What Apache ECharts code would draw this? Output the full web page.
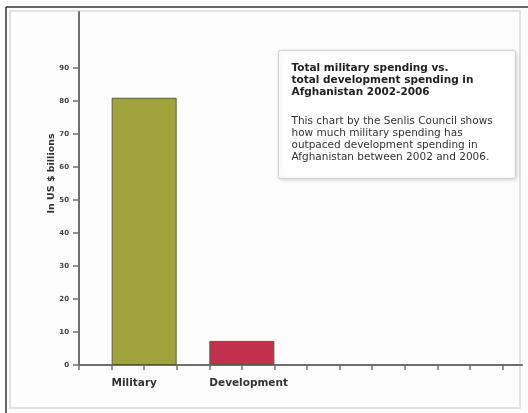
<!DOCTYPE html>
<html>
<head>
<meta charset="utf-8">
<script src="https://cdn.jsdelivr.net/npm/echarts@6/dist/echarts.min.js"></script>
<style>
  html, body { margin: 0; padding: 0; background: #fff; }
  #chart { width: 528px; height: 413px; }
</style>
</head>
<body>
<div id="chart"></div>
<script>
// chart data
const categories = ['Military', 'Development'];
const spending = [81, 7.3]; // US $ billions, 2002-2006
const yTicks = [0, 10, 20, 30, 40, 50, 60, 70, 80, 90];
const xTicks = [0, 1, 2, 3, 4, 5, 6, 7, 8, 9, 10, 11, 12, 13];
const barColors = ['#a0a33b', '#c2304e'];

const boxTitle = 'Total military spending vs.\ntotal development spending in\nAfghanistan 2002-2006';
const boxBody = 'This chart by the Senlis Council shows\nhow much military spending has\noutpaced development spending in\nAfghanistan between 2002 and 2006.';

// each bar covers two tick slots, one empty slot between them
const slotStart = (i) => 1 + i * 3;

const chart = echarts.init(document.getElementById('chart'));

const option = {
  backgroundColor: '#fdfdfd',
  animation: false,
  textStyle: { fontFamily: 'DejaVu Sans' },
  grid: { left: 79, right: 6, top: 12, bottom: 48 },
  xAxis: {
    type: 'value',
    min: 0,
    max: 13.6,
    splitLine: { show: false },
    axisLine: { lineStyle: { color: '#6f6f6f', width: 2 } },
    axisTick: { customValues: xTicks, length: 5, lineStyle: { color: '#6f6f6f', width: 1.5 } },
    axisLabel: {
      customValues: categories.map((c, i) => slotStart(i)),
      formatter: (v) => categories[(v - 1) / 3] || '',
      align: 'left',
      margin: 13,
      fontSize: 10.5,
      fontWeight: 'bold',
      color: '#333'
    }
  },
  yAxis: {
    type: 'value',
    min: 0,
    max: 107,
    name: 'In US $ billions',
    nameLocation: 'middle',
    nameRotate: 90,
    nameGap: 22,
    nameMoveOverlap: false,
    nameTextStyle: { fontSize: 9.5, fontWeight: 'bold', color: '#333', padding: [0, 0, 0, 30] },
    splitLine: { show: false },
    axisLine: { show: true, lineStyle: { color: '#6f6f6f', width: 2 } },
    axisTick: { show: true, customValues: yTicks, length: 6, lineStyle: { color: '#6f6f6f', width: 1.5 } },
    axisLabel: { customValues: yTicks, margin: 10, fontSize: 7, fontWeight: 'bold', color: '#444' }
  },
  series: [
    {
      type: 'bar',
      barWidth: 65,
      data: spending.map((v, i) => ({
        value: [slotStart(i) + 1, v],
        itemStyle: { color: barColors[i], borderColor: '#5a5a3a', borderWidth: 1 }
      }))
    }
  ],
  graphic: [
    // outer frame
    { type: 'line', z: -1, shape: { x1: 6, y1: 7, x2: 528, y2: 7 }, style: { stroke: '#333', lineWidth: 1.5 } },
    { type: 'line', z: -1, shape: { x1: 6, y1: 7, x2: 6, y2: 413 }, style: { stroke: '#333', lineWidth: 1.5 } },
    { type: 'rect', z: -1, shape: { x: 10, y: 11, width: 510, height: 397 }, style: { fill: 'none', stroke: '#e2e2e2', lineWidth: 2 } },
    // text box
    {
      type: 'group',
      left: 278,
      top: 50,
      children: [
        {
          type: 'rect',
          shape: { x: 0, y: 0, width: 237, height: 128, r: 2 },
          style: { fill: '#fff', stroke: '#cfcfcf', lineWidth: 1, shadowBlur: 4, shadowColor: 'rgba(0,0,0,0.15)', shadowOffsetX: 1, shadowOffsetY: 1 }
        },
        {
          type: 'text',
          x: 13,
          y: 12,
          style: { text: boxTitle, font: 'bold 10.5px "DejaVu Sans"', fill: '#222', lineHeight: 12 }
        },
        {
          type: 'text',
          x: 13,
          y: 65,
          style: { text: boxBody, font: '10.5px "DejaVu Sans"', fill: '#333', lineHeight: 12 }
        }
      ]
    }
  ]
};

chart.setOption(option);
</script>
</body>
</html>
